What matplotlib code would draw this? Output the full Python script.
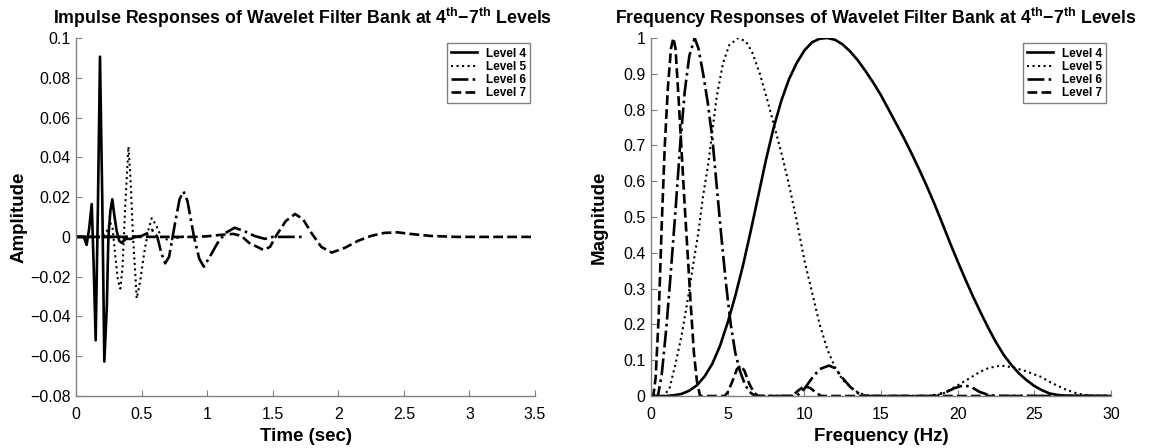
import matplotlib
matplotlib.use("Agg")
import matplotlib.pyplot as plt

plt.rcParams['font.family'] = ['Liberation Sans', 'DejaVu Sans']
plt.rcParams['mathtext.fontset'] = 'custom'
plt.rcParams['mathtext.rm'] = 'Liberation Sans'
plt.rcParams['mathtext.bf'] = 'Liberation Sans:bold'

labels = ["Level 4", "Level 5", "Level 6", "Level 7"]

# ---- Impulse responses (time in sec, amplitude) ----
t4 = [0, 0.06, 0.081, 0.1, 0.12, 0.135, 0.15, 0.167, 0.183, 0.2, 0.216, 0.235,
      0.247, 0.262, 0.277, 0.29, 0.31, 0.33, 0.348, 0.38, 0.42, 0.45]
a4 = [0, 0, -0.004, 0.004, 0.0165, -0.015, -0.052, 0.015, 0.0906, 0.02, -0.0627, -0.035,
      0.0, 0.013, 0.0189, 0.012, 0.003, -0.002, -0.003, -0.001, -0.001, 0]

t5 = [0, 0.2, 0.23, 0.26, 0.28, 0.30, 0.32, 0.338, 0.355, 0.375, 0.40, 0.415, 0.435,
      0.463, 0.49, 0.52, 0.55, 0.577, 0.61, 0.65, 0.7, 0.75, 0.8, 0.9]
a5 = [0, 0, 0.002, 0.0075, 0.004, -0.01, -0.022, -0.026, -0.015, 0.015, 0.0454, 0.03, 0.0,
      -0.031, -0.022, -0.008, 0.003, 0.0094, 0.006, 0.0, -0.0015, -0.001, 0, 0]

t6 = [0, 0.45, 0.5, 0.55, 0.58, 0.62, 0.65, 0.68, 0.71, 0.75, 0.79, 0.82, 0.85, 0.9,
      0.94, 0.975, 1.02, 1.08, 1.14, 1.21, 1.28, 1.36, 1.44, 1.5, 1.75]
a6 = [0, 0, 0.0005, 0.002, 0.0035, 0.0, -0.008, -0.0133, -0.01, 0.005, 0.019, 0.0228, 0.018, 0.0,
      -0.011, -0.015, -0.01, -0.003, 0.002, 0.0046, 0.003, 0.0005, -0.001, 0, 0]

t7 = [0, 0.9, 1.0, 1.1, 1.2, 1.26, 1.32, 1.43, 1.48, 1.53, 1.6, 1.67, 1.73, 1.8, 1.87,
      1.95, 2.05, 2.15, 2.25, 2.35, 2.45, 2.55, 2.7, 2.9, 3.5]
a7 = [0, 0, 0.0003, 0.001, 0.0015, 0.0005, -0.003, -0.0066, -0.005, 0.001, 0.008, 0.0115, 0.009, 0.0015, -0.005,
      -0.0079, -0.0055, -0.002, 0.0005, 0.002, 0.0023, 0.0015, 0.0005, 0.0, 0]

# ---- Frequency responses (Hz, magnitude) ----
f4 = [0, 0.5, 1, 1.5, 2, 2.5, 3, 3.5, 4, 4.5, 5, 5.5, 6, 6.5, 7, 7.5, 8, 8.5, 9, 9.5,
      10, 10.5, 11, 11.5, 12, 12.5, 13, 13.5, 14, 14.5, 15, 15.5, 16, 16.5, 17, 17.5,
      18, 18.5, 19, 19.5, 20, 20.5, 21, 21.5, 22, 22.5, 23, 23.5, 24, 24.5, 25, 25.5,
      26, 26.5, 27, 28, 29, 30]
m4 = [0, 0, 0, 0.002, 0.006, 0.015, 0.03, 0.055, 0.09, 0.14, 0.205, 0.28, 0.365, 0.46, 0.56, 0.66, 0.75, 0.825, 0.885, 0.93,
      0.965, 0.988, 0.998, 1.0, 0.995, 0.982, 0.962, 0.937, 0.907, 0.875, 0.84, 0.80, 0.76, 0.72, 0.677, 0.632,
      0.585, 0.535, 0.482, 0.428, 0.376, 0.326, 0.278, 0.233, 0.19, 0.15, 0.115, 0.087, 0.063, 0.044, 0.028, 0.016,
      0.007, 0.003, 0.001, 0, 0, 0]

f5 = [0, 0.8, 1.2, 1.6, 2.0, 2.4, 2.8, 3.1, 3.4, 3.74, 4.0, 4.3, 4.7, 5.1, 5.7, 6.2, 6.6, 7.1,
      7.5, 8.0, 8.5, 9.0, 9.5, 10.0, 10.5, 11.0, 11.5, 12.0, 12.5, 13.0, 13.5, 14.0, 14.5,
      18.5, 19.1, 19.8, 20.6, 21.4, 22.0, 22.8, 23.6, 24.4, 25.4, 26.2, 27.1, 27.8, 28.4, 29.0, 30]
m5 = [0, 0, 0.02, 0.09, 0.17, 0.27, 0.38, 0.46, 0.56, 0.65, 0.74, 0.84, 0.93, 0.98, 1.0, 0.99, 0.96, 0.90,
      0.84, 0.76, 0.68, 0.59, 0.49, 0.38, 0.29, 0.2, 0.13, 0.08, 0.045, 0.025, 0.01, 0.002, 0,
      0, 0.008, 0.025, 0.045, 0.066, 0.078, 0.085, 0.08, 0.07, 0.054, 0.035, 0.017, 0.007, 0.002, 0, 0]

f6 = [0, 0.45, 0.7, 1.0, 1.3, 1.6, 1.9, 2.2, 2.5, 2.85, 3.1, 3.4, 3.7, 4.0, 4.3, 4.6, 4.9,
      5.2, 5.5, 5.8, 6.1, 6.4, 6.8, 9.5, 10.0, 10.5, 11.0, 11.6, 12.0, 12.5, 13.0, 13.5, 14.0,
      18.3, 19.2, 19.8, 20.4, 20.9, 21.4, 22.0, 22.5, 30]
m6 = [0, 0, 0.06, 0.19, 0.35, 0.52, 0.70, 0.85, 0.95, 1.0, 0.97, 0.9, 0.82, 0.72, 0.58, 0.44, 0.31,
      0.2, 0.12, 0.07, 0.035, 0.012, 0, 0, 0.02, 0.05, 0.075, 0.085, 0.078, 0.05, 0.025, 0.008, 0,
      0, 0.01, 0.022, 0.03, 0.025, 0.012, 0.003, 0, 0]

f7 = [0, 0.15, 0.3, 0.5, 0.7, 0.9, 1.1, 1.3, 1.46, 1.6, 1.8, 2.0, 2.2, 2.4, 2.6, 2.8, 3.0,
      3.2, 4.8, 5.0, 5.3, 5.6, 5.85, 6.1, 6.4, 6.7, 7.0, 9.2, 9.6, 10.0, 10.4, 10.8, 11.1, 30]
m7 = [0, 0, 0.05, 0.22, 0.48, 0.70, 0.86, 0.97, 1.0, 0.97, 0.83, 0.68, 0.53, 0.39, 0.25, 0.12, 0.04,
      0, 0, 0.01, 0.04, 0.075, 0.085, 0.07, 0.035, 0.01, 0, 0, 0.015, 0.028, 0.022, 0.008, 0, 0]

styles = [dict(ls='-', lw=1.9), dict(ls=':', lw=1.5), dict(ls='-.', lw=1.9), dict(ls='--', lw=1.9)]

fig = plt.figure(figsize=(11.49, 4.48), dpi=100)
ax1 = fig.add_axes([76/1149, 1-396/448, (535-76)/1149, (396-38)/448])
ax2 = fig.add_axes([651/1149, 1-396/448, (1111-651)/1149, (396-38)/448])

for (x, y), st, lab in zip([(t4, a4), (t5, a5), (t6, a6), (t7, a7)], styles, labels):
    ax1.plot(x, y, color='black', label=lab, **st)
for (x, y), st, lab in zip([(f4, m4), (f5, m5), (f6, m6), (f7, m7)], styles, labels):
    ax2.plot(x, y, color='black', label=lab, **st)

title_fs = 12.8
ax1.set_xlim(0, 3.5)
ax1.set_ylim(-0.08, 0.1)
ax1.set_xticks([0, 0.5, 1, 1.5, 2, 2.5, 3, 3.5])
ax1.set_xticklabels(['0', '0.5', '1', '1.5', '2', '2.5', '3', '3.5'])
ax1.set_yticks([-0.08, -0.06, -0.04, -0.02, 0, 0.02, 0.04, 0.06, 0.08, 0.1])
ax1.set_yticklabels(['\u22120.08', '\u22120.06', '\u22120.04', '\u22120.02', '0',
                     '0.02', '0.04', '0.06', '0.08', '0.1'])
ax1.set_xlabel('Time (sec)', fontsize=13.5, fontweight='bold', labelpad=4)
ax1.set_ylabel('Amplitude', fontsize=13.5, fontweight='bold', labelpad=2)
ax1.set_title(r'Impulse Responses of Wavelet Filter Bank at 4$^{\mathbf{th}}$$\mathbf{-}$7$^{\mathbf{th}}$ Levels',
              fontsize=title_fs, fontweight='bold', pad=10, x=0.494)

ax2.set_xlim(0, 30)
ax2.set_ylim(0, 1)
ax2.set_xticks([0, 5, 10, 15, 20, 25, 30])
ax2.set_yticks([0, 0.1, 0.2, 0.3, 0.4, 0.5, 0.6, 0.7, 0.8, 0.9, 1])
ax2.set_yticklabels(['0', '0.1', '0.2', '0.3', '0.4', '0.5', '0.6', '0.7', '0.8', '0.9', '1'])
ax2.set_xlabel('Frequency (Hz)', fontsize=13.5, fontweight='bold', labelpad=4)
ax2.set_ylabel('Magnitude', fontsize=13.5, fontweight='bold', labelpad=11)
ax2.set_title(r'Frequency Responses of Wavelet Filter Bank at 4$^{\mathbf{th}}$$\mathbf{-}$7$^{\mathbf{th}}$ Levels',
              fontsize=title_fs, fontweight='bold', pad=10, x=0.488)

for ax in (ax1, ax2):
    for s in ('top', 'right'):
        ax.spines[s].set_visible(False)
    for s in ('left', 'bottom'):
        ax.spines[s].set_color('#808080')
        ax.spines[s].set_linewidth(1.0)
    ax.tick_params(direction='in', length=4, width=0.8, color='#808080', labelsize=11.5)
    ax.tick_params(axis='x', pad=8)
    ax.tick_params(axis='y', pad=4)
    leg = ax.legend(loc='upper right', bbox_to_anchor=(0.99, 0.985), prop={'weight': 'bold', 'size': 8.5},
                    frameon=True, fancybox=False, edgecolor='#606060', handlelength=2.2,
                    labelspacing=0.1, borderpad=0.35, handletextpad=0.8, borderaxespad=0.0)
    leg.get_frame().set_linewidth(1.0)

fig.savefig('out.png', dpi=100)
